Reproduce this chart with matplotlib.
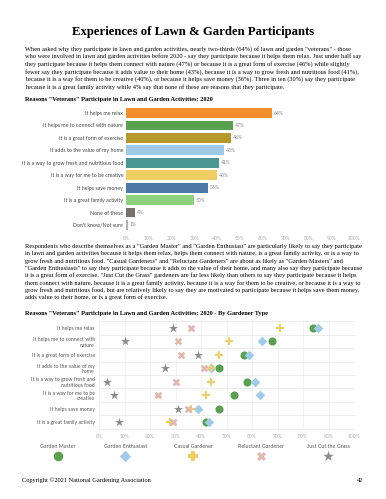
import matplotlib
matplotlib.use("Agg")
import matplotlib.pyplot as plt
import numpy as np

W, H = 386, 499

# ---- data ----
reasons = ["It helps me relax", "It helps me to connect with nature",
           "It is a great form of exercise", "It adds to the value of my home",
           "It is a way to grow fresh and nutritious food",
           "It is a way for me to be creative", "It helps save money",
           "It is a great family activity", "None of these", "Don't know/Not sure"]
veteran_pct = [64, 47, 46, 43, 41, 40, 36, 30, 4, 1]
bar_colors = ["#f28e2b", "#59a14f", "#b6992d", "#a0cbe8", "#499894",
              "#f1ce63", "#4e79a7", "#8cd17d", "#79706e", "#bab0ac"]

type_reasons = ["It helps me relax", "It helps me to connect with\nnature",
                "It is a great form of exercise", "It adds to the value of my\nhome",
                "It is a way to grow fresh and\nnutritious food",
                "It is a way for me to be\ncreative", "It helps save money",
                "It is a great family activity"]
gardener_types = ["Garden Master", "Garden Enthusiast", "Casual Gardener",
                  "Reluctant Gardener", "Just Cut the Grass"]
garden_master = [84, 68, 57, 47, 58, 53, 47, 42]
garden_enthusiast = [86, 64, 59, 44, 61, 63, 39, 43]
casual_gardener = [71, 51, 47, 44, 44, 42, 36, 28]
reluctant_gardener = [36, 31, 32, 41, 30, 23, 35, 29]
just_cut_grass = [29, 10, 39, 26, 3, 6, 31, 8]
type_values = [garden_master, garden_enthusiast, casual_gardener,
               reluctant_gardener, just_cut_grass]
type_colors = ["#59a14f", "#a0cbe8", "#f1ce63", "#e2b8ae", "#8c8c8c"]
type_markers = ["o", "D", "P", "X", "*"]
type_sizes = [34, 24, 34, 30, 46]

pct_ticks = list(range(0, 101, 10))

title = "Experiences of Lawn & Garden Participants"
para1 = ("When asked why they participate in lawn and garden activities, nearly two-thirds (64%) of lawn and garden \"veterans\" - those\n"
         "who were involved in lawn and garden activities before 2020 - say they participate because it helps them relax. Just under half say\n"
         "they participate because it helps them connect with nature (47%) or because it is a great form of exercise (46%) while slightly\n"
         "fewer say they participate because it adds value to their home (43%), because it is a way to grow fresh and nutritious food (41%),\n"
         "because it is a way for them to be creative (40%), or because it helps save money (36%). Three in ten (30%) say they participate\n"
         "because it is a great family activity while 4% say that none of these are reasons that they participate.")
para2 = ("Respondents who describe themselves as a \"Garden Master\" and \"Garden Enthusiast\" are particularly likely to say they participate\n"
         "in lawn and garden activities because it helps them relax, helps them connect with nature, is a great family activity, or is a way to\n"
         "grow fresh and nutritious food. \"Casual Gardeners\" and \"Reluctant Gardeners\" are about as likely as \"Garden Masters\" and\n"
         "\"Garden Enthusiasts\" to say they participate because it adds to the value of their home, and many also say they participate because\n"
         "it is a great form of exercise. \"Just Cut the Grass\" gardeners are far less likely than others to say they participate because it helps\n"
         "them connect with nature, because it is a great family activity, because it is a way for them to be creative, or because it is a way to\n"
         "grow fresh and nutritious food, but are relatively likely to say they are motivated to participate because it helps save them money,\n"
         "adds value to their home, or is a great form of exercise.")
sub1 = "Reasons \"Veterans\" Participate in Lawn and Garden Activities: 2020"
sub2 = "Reasons \"Veterans\" Participate in Lawn and Garden Activities: 2020 - By Gardener Type"

SERIF = "Liberation Serif"
SANS = "Lato"

fig = plt.figure(figsize=(W / 100, H / 100), dpi=100)
fig.patch.set_facecolor("white")


def px(x, y):
    return x / W, 1 - y / H


def ax_at(left, top, right, bottom):
    return fig.add_axes([left / W, 1 - bottom / H, (right - left) / W, (bottom - top) / H])


fig.text(*px(193, 32), title, family=SERIF, weight="bold", fontsize=9.2,
         ha="center", va="center")
fig.text(*px(25, 46), para1, family=SERIF, fontsize=4.55, ha="left", va="top",
         linespacing=1.37)
fig.text(*px(25, 99), sub1, family=SERIF, weight="bold", fontsize=4.6,
         ha="left", va="center")
fig.text(*px(25, 244), para2, family=SERIF, fontsize=4.55, ha="left", va="top",
         linespacing=1.37)
fig.text(*px(25, 313), sub2, family=SERIF, weight="bold", fontsize=4.6,
         ha="left", va="center")
fig.text(*px(22, 480), "Copyright \u00a92021 National Gardening Association",
         family=SERIF, fontsize=4.6, ha="left", va="center")
fig.text(*px(363, 480), "42", family=SERIF, fontsize=4.6, ha="right", va="center")

# ---- bar chart ----
ax1 = ax_at(126, 106.8, 354, 231.2)
y1 = np.arange(len(reasons))
ax1.barh(y1, veteran_pct, color=bar_colors, height=0.78)
for yi, v in zip(y1, veteran_pct):
    ax1.text(v + 0.8, yi, f"{v}%", fontsize=3.6, family=SANS, color="#888888",
             va="center", ha="left")
ax1.set_ylim(len(reasons) - 0.5, -0.5)
ax1.set_xlim(0, 100)
ax1.set_yticks(y1)
ax1.set_yticklabels(reasons, fontsize=3.75, family=SANS, color="#444444")
ax1.set_xticks(pct_ticks)
ax1.set_xticklabels([f"{t}%" for t in pct_ticks], fontsize=3.6, family=SANS,
                    color="#aaaaaa")
ax1.tick_params(length=0, pad=2)
ax1.tick_params(axis="x", pad=3.5)
for s in ax1.spines.values():
    s.set_visible(False)

# ---- dot chart ----
ax2 = ax_at(99, 321.3, 354, 428.7)
y2 = np.arange(len(type_reasons))
for vals, c, m, s in zip(type_values, type_colors, type_markers, type_sizes):
    ax2.scatter(vals, y2, color=c, marker=m, s=s, linewidths=0, zorder=3)
ax2.set_ylim(len(type_reasons) - 0.5, -0.5)
ax2.set_xlim(0, 100)
ax2.set_yticks(y2)
ax2.set_yticklabels(type_reasons, fontsize=3.7, family=SANS, color="#555555",
                    linespacing=1.15)
ax2.set_xticks(pct_ticks)
ax2.set_xticklabels([f"{t}%" for t in pct_ticks], fontsize=3.6, family=SANS,
                    color="#aaaaaa")
ax2.tick_params(length=0, pad=3)
ax2.tick_params(axis="x", pad=3.5)
ax2.xaxis.grid(True, color="#eeeeee", linewidth=0.5)
for yb in np.arange(-0.5, len(type_reasons), 1.0):
    ax2.axhline(yb, color="#e4e4e4", linewidth=0.5, zorder=1, clip_on=False)
ax2.set_axisbelow(True)
for s in ax2.spines.values():
    s.set_visible(False)

# ---- legend ----
axl = ax_at(24, 441, 362, 462)
xl = np.arange(len(gardener_types))
for i, (name, c, m, s) in enumerate(zip(gardener_types, type_colors, type_markers, type_sizes)):
    axl.scatter([xl[i]], [1], color=c, marker=m, s=s * 1.4, linewidths=0)
    axl.text(xl[i], 0, name, fontsize=3.9, family=SANS, color="#555555",
             ha="center", va="center")
axl.set_xlim(-0.5, len(gardener_types) - 0.5)
axl.set_ylim(-0.6, 1.6)
axl.invert_yaxis()
axl.axis("off")

fig.savefig("out.png", dpi=100, facecolor="white")
